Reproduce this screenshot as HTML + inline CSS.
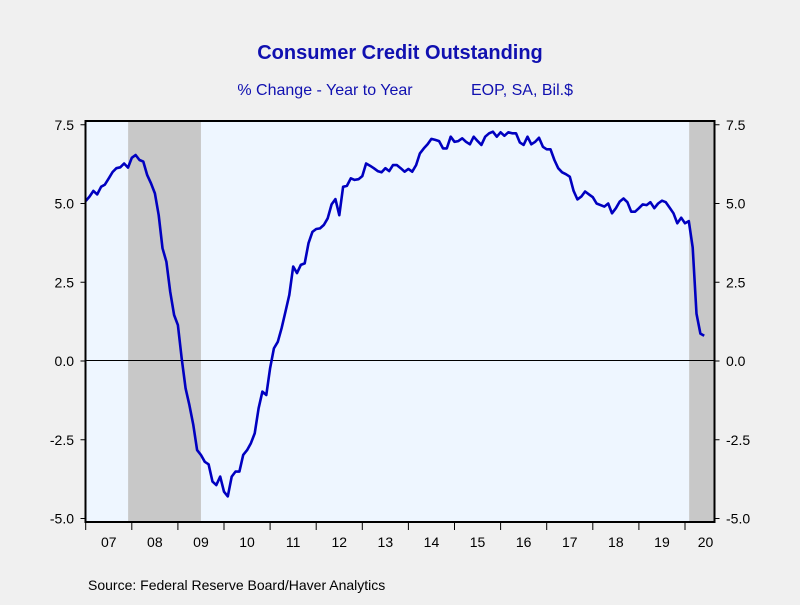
<!DOCTYPE html>
<html><head><meta charset="utf-8"><style>
body{margin:0;background:#f0f0f0;font-family:"Liberation Sans",sans-serif}
</style></head><body>
<svg width="800" height="600" xmlns="http://www.w3.org/2000/svg" font-family="Liberation Sans, sans-serif">
<rect width="800" height="600" fill="#f0f0f0"/>
<text x="400" y="59" text-anchor="middle" font-size="20" font-weight="bold" fill="#1010b0">Consumer Credit Outstanding</text>
<text x="325" y="95" text-anchor="middle" font-size="16" fill="#1010b0">% Change - Year to Year</text>
<text x="522" y="95" text-anchor="middle" font-size="16" fill="#1010b0">EOP, SA, Bil.$</text>
<rect x="85.5" y="121" width="629" height="401" fill="#eef6ff"/>
<g id="shades"></g>
<line x1="85.5" x2="714.5" id="zero" stroke="#000" stroke-width="1"/>
<g id="axes"></g>
<polyline id="series" fill="none" stroke="#0000c0" stroke-width="2.6" stroke-linejoin="round"/>
<rect x="85.5" y="121" width="629" height="401" fill="none" stroke="#000" stroke-width="2"/>
<text x="88" y="590" font-size="14" fill="#000">Source:  Federal Reserve Board/Haver Analytics</text>
</svg>
<script>
const values=[5.08,5.22,5.4,5.29,5.53,5.6,5.8,6.0,6.12,6.15,6.27,6.14,6.45,6.54,6.38,6.33,5.9,5.64,5.32,4.63,3.58,3.15,2.2,1.46,1.14,0.08,-0.87,-1.4,-2.03,-2.83,-2.98,-3.2,-3.28,-3.83,-3.94,-3.67,-4.15,-4.3,-3.67,-3.51,-3.51,-2.98,-2.83,-2.61,-2.3,-1.5,-0.97,-1.08,-0.23,0.4,0.61,1.04,1.57,2.1,3.0,2.79,3.05,3.1,3.74,4.1,4.19,4.21,4.32,4.53,4.97,5.14,4.63,5.53,5.56,5.8,5.75,5.77,5.87,6.27,6.2,6.12,6.03,5.99,6.12,6.03,6.22,6.22,6.12,6.01,6.1,6.01,6.22,6.59,6.75,6.88,7.05,7.02,6.98,6.75,6.75,7.12,6.96,6.98,7.07,6.96,6.88,7.12,6.98,6.86,7.12,7.23,7.28,7.12,7.26,7.15,7.26,7.23,7.23,6.94,6.86,7.12,6.88,6.96,7.09,6.8,6.72,6.72,6.38,6.12,5.99,5.93,5.85,5.4,5.13,5.22,5.38,5.29,5.2,5.0,4.95,4.9,5.0,4.69,4.85,5.06,5.16,5.04,4.74,4.74,4.85,4.97,4.95,5.04,4.85,5.0,5.09,5.04,4.87,4.69,4.37,4.55,4.37,4.44,3.6,1.5,0.87,0.8];
const startYear=2007;
const yTicks=[7.5,5.0,2.5,0.0,-2.5,-5.0];
const yearLabels=["07","08","09","10","11","12","13","14","15","16","17","18","19","20"];
const recessions=[[2007.92,2009.5],[2020.09,2020.7]];
const NS="http://www.w3.org/2000/svg";
const X0=85.7,PXY=46.1,Y0=361,PXU=31.5,LEFT=85.5,RIGHT=714.5,TOP=121,BOT=522;
const xs=t=>X0+(t-startYear)*PXY;
const ys=v=>Y0-v*PXU;
function mk(tag,attrs,parent){const e=document.createElementNS(NS,tag);for(const k in attrs)e.setAttribute(k,attrs[k]);parent.appendChild(e);return e;}
const shades=document.getElementById('shades');
recessions.forEach(r=>{const x1=Math.max(LEFT,xs(r[0])),x2=Math.min(RIGHT,xs(r[1]));
const e=mk('rect',{x:x1,y:TOP,width:x2-x1,height:BOT-TOP,fill:'#c8c8c8'},shades);

});
const z=document.getElementById('zero');z.setAttribute('y1',ys(0)-0.5);z.setAttribute('y2',ys(0)-0.5);
const ax=document.getElementById('axes');
yTicks.forEach(v=>{const y=ys(v);
mk('line',{x1:LEFT-5,x2:LEFT,y1:y,y2:y,stroke:'#000'},ax);
mk('line',{x1:RIGHT,x2:RIGHT+5,y1:y,y2:y,stroke:'#000'},ax);
const a=mk('text',{x:74,y:y+5,'text-anchor':'end','font-size':14},ax);a.textContent=v.toFixed(1);


const b=mk('text',{x:726,y:y+5,'font-size':14},ax);b.textContent=v.toFixed(1);

});
yearLabels.forEach((l,i)=>{const x=xs(startYear+i);
mk('line',{x1:x,x2:x,y1:BOT,y2:BOT+8,stroke:'#000'},ax);
const t=mk('text',{x:Math.min(x+PXY/2,RIGHT-9),y:547,'text-anchor':'middle','font-size':14},ax);t.textContent=l;

});
document.getElementById('series').setAttribute('points',values.map((v,i)=>xs(startYear+i/12).toFixed(1)+','+ys(v).toFixed(1)).join(' '));
</script>
</body></html>
